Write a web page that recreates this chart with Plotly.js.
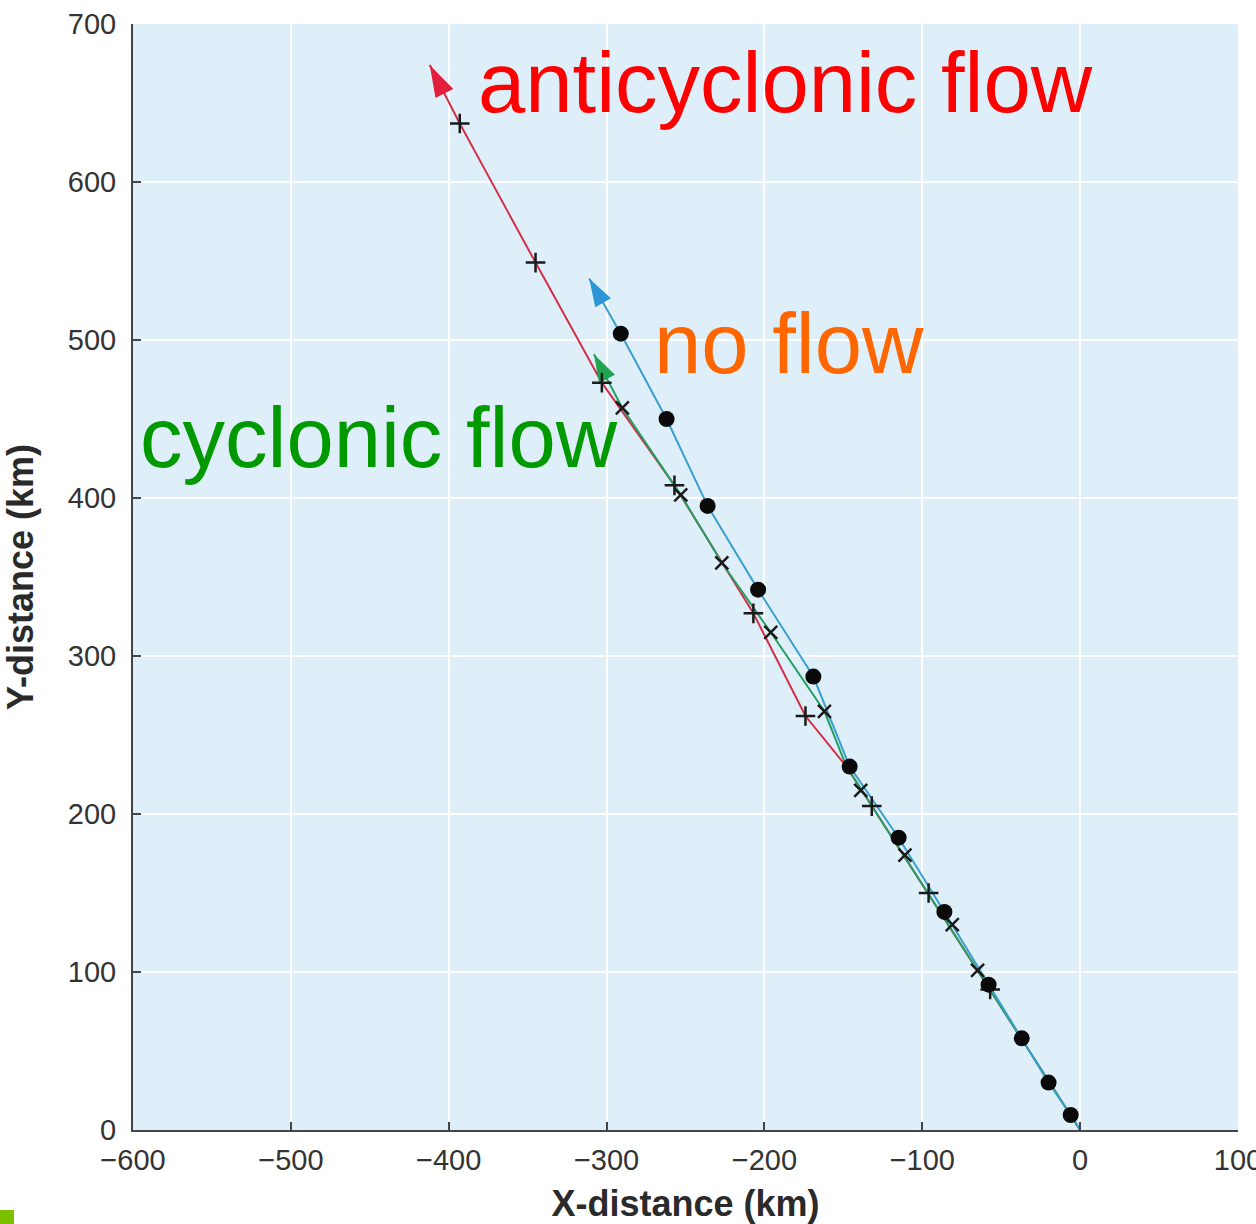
<!DOCTYPE html>
<html>
<head>
<meta charset="utf-8">
<script src="https://cdn.plot.ly/plotly-3.0.1.min.js"></script>
<style>
  html, body { margin: 0; padding: 0; background: #ffffff; }
  #chart { width: 1256px; height: 1224px; }
</style>
</head>
<body>
<div id="chart"></div>
<script>
// Storm-centre trajectories, distances in km from the start point.

// No environmental flow: position dots, then the arrow tip
const noFlowDotX = [-6, -20, -37, -58, -86, -115, -146, -169, -204, -236, -262, -291];
const noFlowDotY = [9.5, 30, 58, 92, 138, 185, 230, 287, 342, 395, 450, 504];
const noFlowTip = [-311, 539];

// Cyclonic flow: path vertices and position crosses
const cyclonicPathX = [0, -148, -162, -196, -227, -253, -290, -308];
const cyclonicPathY = [0, 230, 265, 315, 359, 402, 457, 491];
const cyclonicMarkX = [-65, -81, -111, -139, -162, -196, -227, -253, -290];
const cyclonicMarkY = [101, 130, 174, 215, 265, 315, 359, 402, 457];

// Anticyclonic flow: path vertices and position crosses
const anticyclonicPathX = [0, -148, -174, -207, -257, -303, -345, -393, -412];
const anticyclonicPathY = [0, 230, 262, 327, 408, 473, 549, 637, 674];
const anticyclonicMarkX = [-57, -96, -132, -174, -207, -257, -303, -345, -393];
const anticyclonicMarkY = [89, 150, 205, 262, 327, 408, 473, 549, 637];

// Axis ticks
const xTicks = [-600, -500, -400, -300, -200, -100, 0, 100];
const yTicks = [0, 100, 200, 300, 400, 500, 600, 700];

const W = 1256, H = 1224;
const margin = { l: 133, r: 18, t: 24, b: 94 };
const xRange = [-600, 100];
const yRange = [0, 700];
const kmPerPxX = (xRange[1] - xRange[0]) / (W - margin.l - margin.r);
const kmPerPxY = (yRange[1] - yRange[0]) / (H - margin.t - margin.b);

const noFlowPathX = [0].concat(noFlowDotX, [noFlowTip[0]]);
const noFlowPathY = [0].concat(noFlowDotY, [noFlowTip[1]]);

// Filled arrow head at the end of a path, pointing along its last segment
function arrowHead(xs, ys, lenPx, halfPx) {
  const n = xs.length;
  const tx = xs[n - 1], ty = ys[n - 1];
  const dxp = (tx - xs[n - 2]) / kmPerPxX;
  const dyp = (ty - ys[n - 2]) / kmPerPxY;
  const d = Math.hypot(dxp, dyp);
  const ux = dxp / d, uy = dyp / d;
  const bx = -ux * lenPx, by = -uy * lenPx;
  const px = -uy * halfPx, py = ux * halfPx;
  return {
    x: [tx, tx + (bx + px) * kmPerPxX, tx + (bx - px) * kmPerPxX, tx],
    y: [ty, ty + (by + py) * kmPerPxY, ty + (by - py) * kmPerPxY, ty]
  };
}

const red = '#d23048', redHead = '#e0203c';
const green = '#23a064', greenHead = '#1fa552';
const blue = '#3a9fcf', blueHead = '#2a96d6';

const headRed = arrowHead(anticyclonicPathX, anticyclonicPathY, 32, 10);
const headGreen = arrowHead(cyclonicPathX, cyclonicPathY, 28, 9);
const headBlue = arrowHead(noFlowPathX, noFlowPathY, 28, 9);

const traces = [
  { x: anticyclonicPathX, y: anticyclonicPathY, mode: 'lines', line: { color: red, width: 2 } },
  { x: cyclonicPathX, y: cyclonicPathY, mode: 'lines', line: { color: green, width: 2 } },
  { x: noFlowPathX, y: noFlowPathY, mode: 'lines', line: { color: blue, width: 2 } },
  { x: headRed.x, y: headRed.y, mode: 'lines', fill: 'toself', fillcolor: redHead, line: { width: 0, color: redHead } },
  { x: headGreen.x, y: headGreen.y, mode: 'lines', fill: 'toself', fillcolor: greenHead, line: { width: 0, color: greenHead } },
  { x: headBlue.x, y: headBlue.y, mode: 'lines', fill: 'toself', fillcolor: blueHead, line: { width: 0, color: blueHead } },
  { x: anticyclonicMarkX, y: anticyclonicMarkY, mode: 'markers',
    marker: { symbol: 'cross-thin', size: 14, line: { width: 2.5, color: '#1a1a1a' } } },
  { x: cyclonicMarkX, y: cyclonicMarkY, mode: 'markers',
    marker: { symbol: 'x-thin', size: 13, line: { width: 2.5, color: '#1a1a1a' } } },
  { x: noFlowDotX, y: noFlowDotY, mode: 'markers',
    marker: { symbol: 'circle', size: 16, color: '#0a0a0a', line: { width: 0 } } }
];

const tickFont = { family: 'Liberation Sans, Arial, sans-serif', size: 29, color: '#333333' };
const titleFont = { family: 'Liberation Sans, Arial, sans-serif', size: 36, color: '#2a2a2a' };
const labelFont = (c) => ({ family: 'Liberation Sans, Arial, sans-serif', size: 85, color: c });

const layout = {
  width: W, height: H,
  margin: margin,
  paper_bgcolor: '#ffffff',
  plot_bgcolor: '#deeffa',
  showlegend: false,
  xaxis: {
    range: xRange, tickvals: xTicks, ticktext: xTicks.map(v => v < 0 ? '\u2212' + (-v) : String(v)),
    showgrid: true, gridcolor: '#ffffff', gridwidth: 2, zeroline: false,
    showline: true, linecolor: '#454545', linewidth: 2,
    ticks: 'inside', ticklen: 8, tickwidth: 2, tickcolor: '#454545',
    tickfont: tickFont, fixedrange: true, ticklabelstandoff: 3, ticklabeloverflow: 'allow',
    title: { text: '<b>X-distance (km)</b>', font: titleFont, standoff: 20 }
  },
  yaxis: {
    range: yRange, tickvals: yTicks,
    showgrid: true, gridcolor: '#ffffff', gridwidth: 2, zeroline: false,
    showline: true, linecolor: '#454545', linewidth: 2,
    ticks: 'inside', ticklen: 8, tickwidth: 2, tickcolor: '#454545',
    tickfont: tickFont, fixedrange: true, ticklabelstandoff: 9, ticklabeloverflow: 'allow',
    title: { text: '<b>Y-distance (km)</b>', font: titleFont, standoff: 24 }
  },
  annotations: [
    { x: -383, y: 663, xref: 'x', yref: 'y', xanchor: 'left', yanchor: 'middle', showarrow: false,
      text: 'anticyclonic flow', font: labelFont('#ff0000') },
    { x: -271, y: 498, xref: 'x', yref: 'y', xanchor: 'left', yanchor: 'middle', showarrow: false,
      text: 'no flow', font: labelFont('#ff6600') },
    { x: -597, y: 438, xref: 'x', yref: 'y', xanchor: 'left', yanchor: 'middle', showarrow: false,
      text: 'cyclonic flow', font: labelFont('#009a00') }
  ],
  shapes: [
    { type: 'rect', xref: 'paper', yref: 'paper',
      x0: -133 / 1105, x1: -119 / 1105, y0: -94 / 1106, y1: -80 / 1106,
      fillcolor: '#7cc000', line: { width: 0 } }
  ]
};

Plotly.newPlot('chart', traces, layout, { displayModeBar: false, staticPlot: true });
</script>
</body>
</html>
